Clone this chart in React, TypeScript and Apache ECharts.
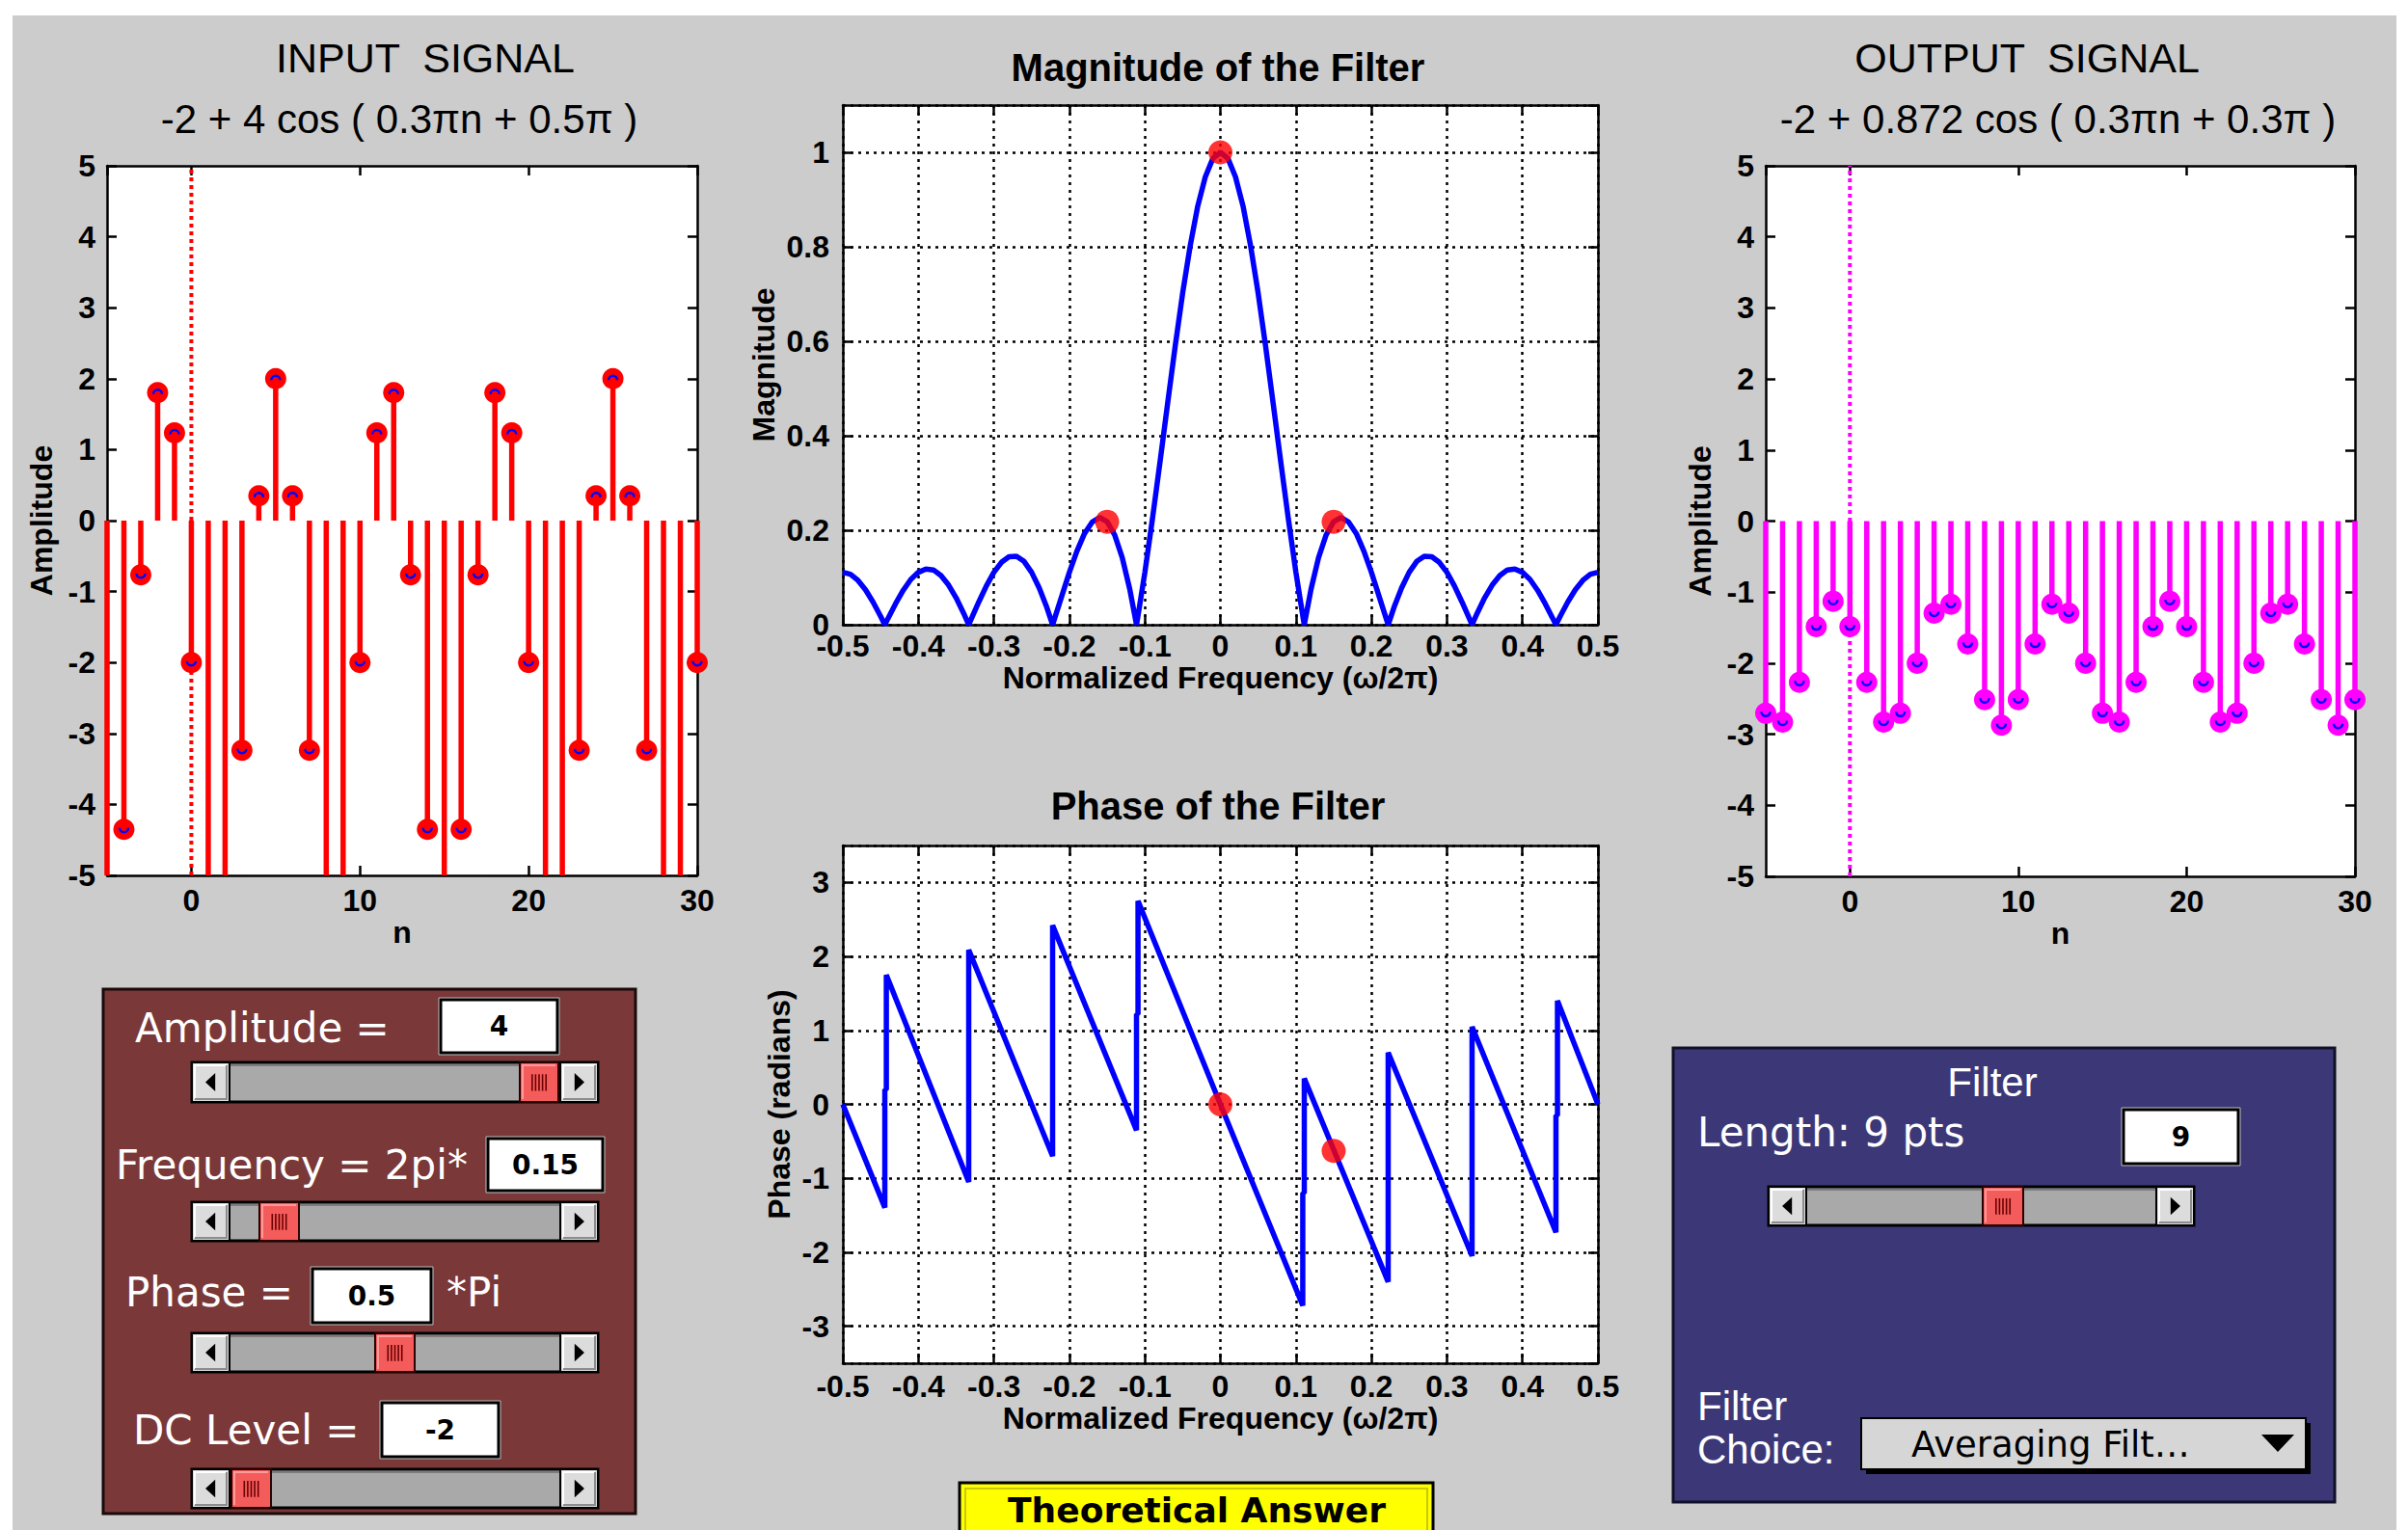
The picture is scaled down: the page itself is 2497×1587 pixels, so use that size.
import React, { useEffect, useRef } from "react";
import * as echarts from "echarts";

// ---------------- DATA ----------------
const nIndex = [-5, -4, -3, -2, -1, 0, 1, 2, 3, 4, 5, 6, 7, 8, 9, 10, 11, 12, 13, 14, 15, 16, 17, 18, 19, 20, 21, 22, 23, 24, 25, 26, 27, 28, 29, 30];
const inputValues = [-6, -4.351, -0.764, 1.804, 1.236, -2, -5.236, -5.804, -3.236, 0.351, 2, 0.351, -3.236, -5.804, -5.236, -2, 1.236, 1.804, -0.764, -4.351, -6, -4.351, -0.764, 1.804, 1.236, -2, -5.236, -5.804, -3.236, 0.351, 2, 0.351, -3.236, -5.804, -5.236, -2];
const outputValues = [-2.705, -2.829, -2.269, -1.487, -1.128, -1.487, -2.269, -2.829, -2.705, -2, -1.295, -1.171, -1.731, -2.513, -2.872, -2.513, -1.731, -1.171, -1.295, -2, -2.705, -2.829, -2.269, -1.487, -1.128, -1.487, -2.269, -2.829, -2.705, -2, -1.295, -1.171, -1.731, -2.513, -2.872, -2.513];

const magFreq = [
  -0.5, -0.49, -0.48, -0.47, -0.46, -0.45, -0.4444, -0.44, -0.43, -0.42, -0.41,
  -0.4, -0.39, -0.38, -0.37, -0.36, -0.35, -0.34, -0.3333, -0.33, -0.32, -0.31,
  -0.3, -0.29, -0.28, -0.27, -0.26, -0.25, -0.24, -0.23, -0.2222, -0.22, -0.21,
  -0.2, -0.19, -0.18, -0.17, -0.16, -0.15, -0.14, -0.13, -0.12, -0.1111, -0.11,
  -0.1, -0.09, -0.08, -0.07, -0.06, -0.05, -0.04, -0.03, -0.02, -0.01,
  0,
  0.01, 0.02, 0.03, 0.04, 0.05, 0.06, 0.07, 0.08, 0.09, 0.1,
  0.11, 0.1111, 0.12, 0.13, 0.14, 0.15, 0.16, 0.17, 0.18, 0.19, 0.2,
  0.21, 0.22, 0.2222, 0.23, 0.24, 0.25, 0.26, 0.27, 0.28, 0.29, 0.3,
  0.31, 0.32, 0.33, 0.3333, 0.34, 0.35, 0.36, 0.37, 0.38, 0.39, 0.4,
  0.41, 0.42, 0.43, 0.44, 0.4444, 0.45, 0.46, 0.47, 0.48, 0.49, 0.5,
];
const magValues = [
  0.111, 0.107, 0.094, 0.074, 0.048, 0.018, 0, 0.014, 0.045, 0.073, 0.096,
  0.111, 0.118, 0.116, 0.104, 0.084, 0.057, 0.024, 0, 0.012, 0.048, 0.082,
  0.111, 0.132, 0.144, 0.145, 0.134, 0.111, 0.078, 0.037, 0, 0.011, 0.061,
  0.111, 0.156, 0.193, 0.217, 0.227, 0.218, 0.19, 0.142, 0.075, 0, 0.01,
  0.111, 0.224, 0.344, 0.467, 0.588, 0.702, 0.802, 0.886, 0.948, 0.987,
  1,
  0.987, 0.948, 0.886, 0.802, 0.702, 0.588, 0.467, 0.344, 0.224, 0.111,
  0.01, 0, 0.075, 0.142, 0.19, 0.218, 0.227, 0.217, 0.193, 0.156, 0.111,
  0.061, 0.011, 0, 0.037, 0.078, 0.111, 0.134, 0.145, 0.144, 0.132, 0.111,
  0.082, 0.048, 0.012, 0, 0.024, 0.057, 0.084, 0.104, 0.116, 0.118, 0.111,
  0.096, 0.073, 0.045, 0.014, 0, 0.018, 0.048, 0.074, 0.094, 0.107, 0.111,
];
const magMarkerFreq = [-0.15, 0, 0.15];
const magMarkerValues = [0.218, 1, 0.218];

const phaseFreq = [
  -0.5, -0.4444, -0.4444, -0.4424, -0.4424, -0.3333, -0.3333, -0.2222, -0.2222,
  -0.1111, -0.1111, -0.1091, -0.1091, 0, 0.1091, 0.1091, 0.1111, 0.1111,
  0.2222, 0.2222, 0.3333, 0.3333, 0.4444, 0.4444, 0.4464, 0.4464, 0.5,
];
const phaseValues = [
  0, -1.396, 0.2, 0.2, 1.75, -1.05, 2.09, -0.7, 2.42,
  -0.35, 1.22, 1.22, 2.75, 0, -2.72, -1.2, -1.2, 0.35,
  -2.4, 0.7, -2.05, 1.05, -1.73, -0.15, -0.15, 1.4, 0,
];
const phaseMarkerFreq = [0, 0.15];
const phaseMarkerValues = [0, -0.628];

const zeroLineN = [0, 0];
const zeroLineY = [-5, 5];

// ---------------- STYLE HELPERS ----------------
const FONT = "Liberation Sans";
const UIFONT = "DejaVu Sans";
const BLUE = "#0000ff";
const RED = "#ff0000";
const MAGENTA = "#ff00ff";

const labelStyle = { fontFamily: FONT, fontWeight: "bold", fontSize: 32, color: "#000" };
const nameStyle = { fontFamily: FONT, fontWeight: "bold", fontSize: 32, color: "#000" };
const axisLineStyle = { show: true, onZero: false, lineStyle: { color: "#000", width: 2.5 } };
const tickStyle = { show: true, inside: true, length: 10, lineStyle: { color: "#000", width: 2.5 } };
const dotted = { show: true, lineStyle: { color: "#000", width: 2.5, type: [3, 5] } };

function mainX(gridIndex: number, extra: any) {
  return {
    type: "value",
    gridIndex,
    position: "bottom",
    axisLine: axisLineStyle,
    axisTick: tickStyle,
    nameLocation: "middle",
    nameTextStyle: nameStyle,
    ...extra,
  };
}
function mirrorX(gridIndex: number, extra: any) {
  return {
    type: "value",
    gridIndex,
    position: "top",
    axisLine: axisLineStyle,
    axisTick: tickStyle,
    axisLabel: { show: false },
    splitLine: { show: false },
    ...extra,
  };
}
function mainY(gridIndex: number, extra: any) {
  return {
    type: "value",
    gridIndex,
    position: "left",
    axisLine: axisLineStyle,
    axisTick: tickStyle,
    nameLocation: "middle",
    nameTextStyle: nameStyle,
    ...extra,
  };
}
function mirrorY(gridIndex: number, extra: any) {
  return {
    type: "value",
    gridIndex,
    position: "right",
    axisLine: axisLineStyle,
    axisTick: tickStyle,
    axisLabel: { show: false },
    splitLine: { show: false },
    ...extra,
  };
}

function stemRenderer(color: string) {
  return (params: any, api: any) => {
    const n = api.value(0);
    const v = api.value(1);
    const lo = -5;
    const hi = 5;
    const vc = Math.max(lo, Math.min(hi, v));
    const base = api.coord([n, 0]);
    const tip = api.coord([n, vc]);
    const children: any[] = [
      {
        type: "line",
        shape: { x1: base[0], y1: base[1], x2: tip[0], y2: tip[1] },
        style: { stroke: color, lineWidth: 5.5 },
      },
    ];
    if (v >= lo && v <= hi) {
      const up = v >= 0;
      children.push({
        type: "circle",
        shape: { cx: tip[0], cy: tip[1], r: 11 },
        style: { fill: color },
      });
      children.push({
        type: "arc",
        shape: {
          cx: tip[0],
          cy: tip[1] + (up ? 1.5 : -1.5),
          r: 4.5,
          startAngle: up ? Math.PI : 0,
          endAngle: up ? 2 * Math.PI : Math.PI,
          clockwise: true,
        },
        style: { stroke: BLUE, lineWidth: 2.5, fill: null },
      });
    }
    return { type: "group", children };
  };
}

function txt(x: number, y: number, text: string, opts: any = {}) {
  const align = opts.align || "center";
  return {
    type: "text",
    x,
    y,
    z: 10,
    style: {
      text,
      fill: opts.color || "#000",
      fontSize: opts.size || 32,
      fontFamily: opts.family || FONT,
      fontWeight: opts.weight || "normal",
      align,
      textAlign: align,
      verticalAlign: "middle",
      textVerticalAlign: "middle",
    },
  };
}

function bevelButton(x: number, y: number, w: number, h: number) {
  return [
    { type: "rect", z: 5, shape: { x, y, width: w, height: h }, style: { fill: "#dcdcdc", stroke: "#000", lineWidth: 2 } },
    { type: "polyline", z: 6, shape: { points: [[x + 3, y + h - 3], [x + 3, y + 3], [x + w - 3, y + 3]] }, style: { stroke: "#ffffff", lineWidth: 2, fill: null } },
    { type: "polyline", z: 6, shape: { points: [[x + 3, y + h - 3], [x + w - 3, y + h - 3], [x + w - 3, y + 3]] }, style: { stroke: "#8c8c8c", lineWidth: 2, fill: null } },
  ];
}

function slider(x: number, y: number, w: number, h: number, tx: number, tw: number) {
  const bw = 39;
  const els: any[] = [];
  els.push({ type: "rect", z: 4, shape: { x, y, width: w, height: h }, style: { fill: "#a9a9a9", stroke: "#000", lineWidth: 3 } });
  els.push({ type: "line", z: 5, shape: { x1: x + bw, y1: y + 3, x2: x + w - bw, y2: y + 3 }, style: { stroke: "#7d7d7d", lineWidth: 2 } });
  els.push(...bevelButton(x, y, bw, h));
  els.push({
    type: "polygon", z: 7,
    shape: { points: [[x + bw * 0.36, y + h / 2], [x + bw * 0.62, y + h * 0.27], [x + bw * 0.62, y + h * 0.73]] },
    style: { fill: "#000" },
  });
  els.push(...bevelButton(x + w - bw, y, bw, h));
  els.push({
    type: "polygon", z: 7,
    shape: { points: [[x + w - bw * 0.36, y + h / 2], [x + w - bw * 0.62, y + h * 0.27], [x + w - bw * 0.62, y + h * 0.73]] },
    style: { fill: "#000" },
  });
  els.push({ type: "rect", z: 6, shape: { x: tx, y, width: tw, height: h }, style: { fill: "#f45c5c", stroke: "#2a0000", lineWidth: 2 } });
  els.push({ type: "polyline", z: 7, shape: { points: [[tx + 3, y + h - 3], [tx + 3, y + 3], [tx + tw - 3, y + 3]] }, style: { stroke: "#ff9a9a", lineWidth: 2, fill: null } });
  for (let i = 0; i < 5; i++) {
    const lx = tx + tw / 2 + (i - 2) * 3.6;
    els.push({ type: "line", z: 8, shape: { x1: lx, y1: y + h * 0.3, x2: lx, y2: y + h * 0.72 }, style: { stroke: "#6b0000", lineWidth: 1.6 } });
  }
  return els;
}

function valueBox(x: number, y: number, w: number, h: number, text: string) {
  return [
    { type: "rect", z: 4, shape: { x: x - 2, y: y - 2, width: w + 4, height: h + 4 }, style: { fill: "#cfcfcf", stroke: "#bdbdbd", lineWidth: 1 } },
    { type: "rect", z: 5, shape: { x, y, width: w, height: h }, style: { fill: "#ffffff", stroke: "#000", lineWidth: 3 } },
    txt(x + w / 2, y + h / 2, text, { family: UIFONT, weight: "bold", size: 28 }),
  ];
}

function buildGraphics() {
  const g: any[] = [];
  // page background
  g.push({ type: "rect", z: -100, shape: { x: 13, y: 16, width: 2472, height: 1580 }, style: { fill: "#cccccc" } });

  // titles
  g.push(txt(441, 60, "INPUT  SIGNAL", { size: 43 }));
  g.push(txt(414, 123, "-2 + 4 cos ( 0.3\u03c0n + 0.5\u03c0 )", { size: 42 }));
  g.push(txt(1263, 70, "Magnitude of the Filter", { size: 40, weight: "bold" }));
  g.push(txt(1263, 836, "Phase of the Filter", { size: 40, weight: "bold" }));
  g.push(txt(2102, 60, "OUTPUT  SIGNAL", { size: 43 }));
  g.push(txt(2134, 123, "-2 + 0.872 cos ( 0.3\u03c0n + 0.3\u03c0 )", { size: 42 }));

  // maroon control panel
  g.push({ type: "rect", z: 1, shape: { x: 107, y: 1026, width: 552, height: 544 }, style: { fill: "#7a3838", stroke: "#1a0a0a", lineWidth: 3 } });
  const white = { color: "#ffffff", family: UIFONT, size: 42, align: "left" };
  g.push(txt(140, 1066, "Amplitude =", white));
  g.push(...valueBox(457, 1037, 121, 55, "4"));
  g.push(...slider(199, 1102, 421, 41, 539, 40));
  g.push(txt(120, 1208, "Frequency = 2pi*", white));
  g.push(...valueBox(506, 1181, 119, 54, "0.15"));
  g.push(...slider(199, 1247, 421, 40, 269, 41));
  g.push(txt(130, 1340, "Phase =", white));
  g.push(...valueBox(324, 1316, 123, 56, "0.5"));
  g.push(txt(463, 1340, "*Pi", white));
  g.push(...slider(199, 1383, 421, 40, 389, 41));
  g.push(txt(138, 1483, "DC Level =", white));
  g.push(...valueBox(396, 1455, 121, 56, "-2"));
  g.push(...slider(199, 1524, 421, 40, 240, 41));

  // navy filter panel
  g.push({ type: "rect", z: 1, shape: { x: 1735, y: 1087, width: 686, height: 471 }, style: { fill: "#3c3878", stroke: "#101028", lineWidth: 3 } });
  g.push(txt(2066, 1122, "Filter", { color: "#ffffff", size: 42 }));
  g.push(txt(1760, 1174, "Length: 9 pts", { color: "#ffffff", family: UIFONT, size: 42, align: "left" }));
  g.push(...valueBox(2202, 1151, 119, 56, "9"));
  g.push(...slider(1834, 1231, 441, 40, 2056, 42));
  g.push(txt(1760, 1458, "Filter", { color: "#ffffff", size: 42, align: "left" }));
  g.push(txt(1760, 1503, "Choice:", { color: "#ffffff", size: 42, align: "left" }));
  // dropdown
  g.push({ type: "rect", z: 4, shape: { x: 1935, y: 1476, width: 461, height: 53 }, style: { fill: "#000" } });
  g.push({ type: "rect", z: 5, shape: { x: 1930, y: 1471, width: 461, height: 53 }, style: { fill: "#d6d6d6", stroke: "#000", lineWidth: 2 } });
  g.push(txt(1982, 1498, "Averaging Filt\u2026", { family: UIFONT, size: 37, align: "left" }));
  g.push({ type: "polygon", z: 7, shape: { points: [[2345, 1488], [2379, 1488], [2362, 1506]] }, style: { fill: "#000" } });

  // yellow button
  g.push({ type: "rect", z: 4, shape: { x: 995, y: 1538, width: 491, height: 62 }, style: { fill: "#ffff00", stroke: "#000", lineWidth: 3 } });
  g.push({ type: "rect", z: 5, shape: { x: 1001, y: 1544, width: 479, height: 50 }, style: { fill: null, stroke: "#c9c900", lineWidth: 2 } });
  g.push(txt(1241, 1566, "Theoretical Answer", { family: UIFONT, size: 36, weight: "bold" }));
  return g;
}

function buildOption() {
  const stemX = { min: -5, max: 30, splitNumber: 4 };
  const stemY = { min: -5, max: 5, interval: 1 };
  const freqX = { min: -0.5, max: 0.5, interval: 0.1 };
  const magY = { min: 0, max: 1.1, interval: 0.2 };
  const phY = { min: -3.5, max: 3.5, splitNumber: 7 };

  return {
    animation: false,
    backgroundColor: "#ffffff",
    graphic: { elements: buildGraphics() },
    grid: [
      { left: 111, top: 172, width: 612, height: 736, show: true, backgroundColor: "#ffffff", borderWidth: 0 },
      { left: 874, top: 109, width: 783, height: 539, show: true, backgroundColor: "#ffffff", borderWidth: 0 },
      { left: 874, top: 877, width: 783, height: 537, show: true, backgroundColor: "#ffffff", borderWidth: 0 },
      { left: 1831, top: 172, width: 611, height: 737, show: true, backgroundColor: "#ffffff", borderWidth: 0 },
    ],
    xAxis: [
      mainX(0, { ...stemX, name: "n", nameGap: 40, splitLine: { show: false }, axisLabel: { ...labelStyle, margin: 10, showMinLabel: false } }),
      mirrorX(0, stemX),
      mainX(1, { ...freqX, name: "Normalized Frequency (\u03c9/2\u03c0)", nameGap: 36, splitLine: dotted, axisLabel: { ...labelStyle, margin: 6 } }),
      mirrorX(1, freqX),
      mainX(2, { ...freqX, name: "Normalized Frequency (\u03c9/2\u03c0)", nameGap: 36, splitLine: dotted, axisLabel: { ...labelStyle, margin: 8 } }),
      mirrorX(2, freqX),
      mainX(3, { ...stemX, name: "n", nameGap: 40, splitLine: { show: false }, axisLabel: { ...labelStyle, margin: 10, showMinLabel: false } }),
      mirrorX(3, stemX),
    ],
    yAxis: [
      mainY(0, { ...stemY, name: "Amplitude", nameGap: 52, splitLine: { show: false }, axisLabel: { ...labelStyle, margin: 12 } }),
      mirrorY(0, stemY),
      mainY(1, { ...magY, name: "Magnitude", nameGap: 66, splitLine: dotted, axisLabel: { ...labelStyle, margin: 14, showMaxLabel: false } }),
      mirrorY(1, magY),
      mainY(2, { ...phY, name: "Phase (radians)", nameGap: 50, splitLine: dotted, axisLabel: { ...labelStyle, margin: 14, showMinLabel: false, showMaxLabel: false } }),
      mirrorY(2, phY),
      mainY(3, { ...stemY, name: "Amplitude", nameGap: 52, splitLine: { show: false }, axisLabel: { ...labelStyle, margin: 12 } }),
      mirrorY(3, stemY),
    ],
    series: [
      {
        type: "line", xAxisIndex: 0, yAxisIndex: 0, z: 1, symbol: "none", silent: true,
        data: zeroLineN.map((n, i) => [n, zeroLineY[i]]),
        lineStyle: { color: RED, width: 4, type: [4, 4] },
      },
      {
        type: "custom", xAxisIndex: 0, yAxisIndex: 0, z: 3,
        data: nIndex.map((n, i) => [n, inputValues[i]]),
        encode: { x: 0, y: 1 },
        renderItem: stemRenderer(RED),
      },
      {
        type: "line", xAxisIndex: 2, yAxisIndex: 2, z: 3, symbol: "none",
        data: magFreq.map((f, i) => [f, magValues[i]]),
        lineStyle: { color: BLUE, width: 5.5 },
      },
      {
        type: "scatter", xAxisIndex: 2, yAxisIndex: 2, z: 4, symbol: "circle", symbolSize: 25,
        data: magMarkerFreq.map((f, i) => [f, magMarkerValues[i]]),
        itemStyle: { color: RED },
      },
      {
        type: "line", xAxisIndex: 4, yAxisIndex: 4, z: 3, symbol: "none",
        data: phaseFreq.map((f, i) => [f, phaseValues[i]]),
        lineStyle: { color: BLUE, width: 5.5 },
      },
      {
        type: "scatter", xAxisIndex: 4, yAxisIndex: 4, z: 4, symbol: "circle", symbolSize: 25,
        data: phaseMarkerFreq.map((f, i) => [f, phaseMarkerValues[i]]),
        itemStyle: { color: RED },
      },
      {
        type: "line", xAxisIndex: 6, yAxisIndex: 6, z: 1, symbol: "none", silent: true,
        data: zeroLineN.map((n, i) => [n, zeroLineY[i]]),
        lineStyle: { color: MAGENTA, width: 4, type: [4, 4] },
      },
      {
        type: "custom", xAxisIndex: 6, yAxisIndex: 6, z: 3,
        data: nIndex.map((n, i) => [n, outputValues[i]]),
        encode: { x: 0, y: 1 },
        renderItem: stemRenderer(MAGENTA),
      },
    ],
  };
}

export default function App() {
  const ref = useRef<HTMLDivElement>(null);
  useEffect(() => {
    if (!ref.current) return;
    const chart = echarts.init(ref.current, undefined, { renderer: "svg" });
    chart.setOption(buildOption() as any);
    return () => chart.dispose();
  }, []);
  return (
    <div
      ref={ref}
      style={{ position: "fixed", left: 0, top: 0, width: 2497, height: 1587, background: "#ffffff" }}
    />
  );
}
